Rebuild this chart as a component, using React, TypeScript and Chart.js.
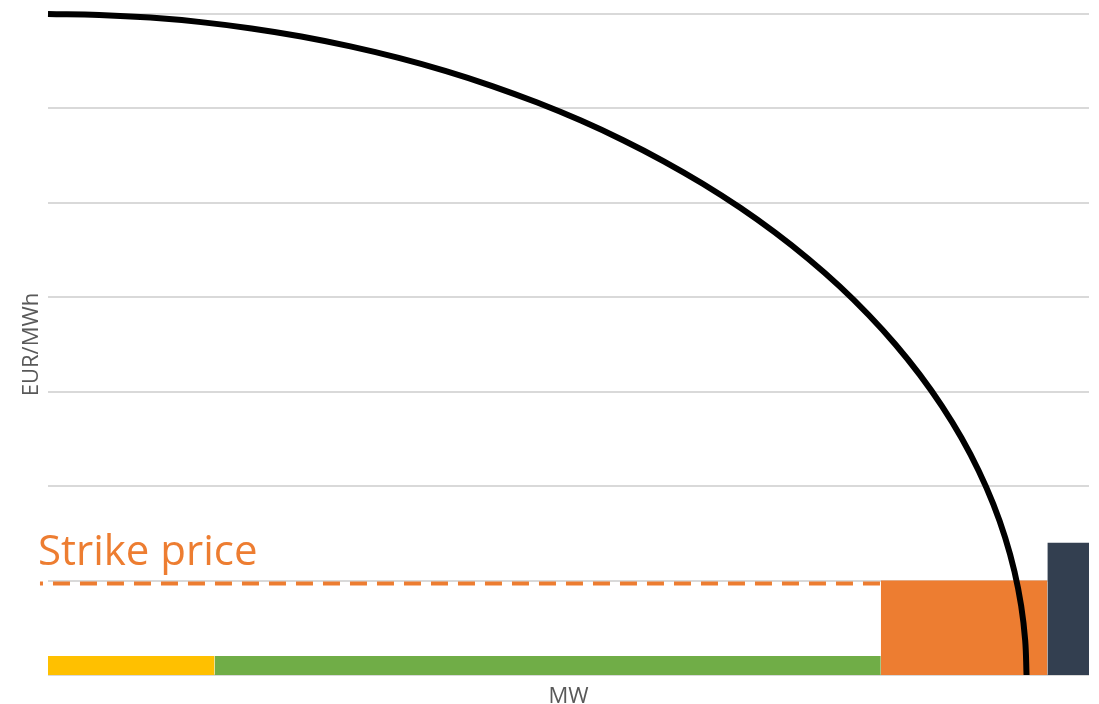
import React, { useEffect, useRef } from "react";
import { Chart, registerables } from "chart.js";

Chart.register(...registerables);

// Supply curve (MW, EUR/MWh)
const curveMW = [0, 4.92, 9.826, 14.704, 19.544, 24.329, 29.048, 33.687, 38.234, 42.675, 47.0, 51.196, 55.252, 59.156, 62.898, 66.468, 69.855, 73.052, 76.048, 78.835, 81.407, 83.755, 85.874, 87.757, 89.4, 90.797, 91.946, 92.843, 93.485, 93.871, 94];
const curvePrice = [7.0, 6.99, 6.962, 6.914, 6.847, 6.762, 6.657, 6.535, 6.395, 6.237, 6.062, 5.871, 5.663, 5.44, 5.202, 4.95, 4.684, 4.405, 4.115, 3.812, 3.5, 3.178, 2.847, 2.509, 2.163, 1.812, 1.455, 1.095, 0.732, 0.366, 0];

// Blocks: [start MW, end MW], height EUR/MWh, colour
const blockStart = [0, 16, 80, 96];
const blockEnd = [16, 80, 96, 100];
const blockHeight = [0.2, 0.2, 1.0, 1.4];
const blockColor = ["#FFC000", "#70AD47", "#ED7D31", "#333F50"];

// Strike price line
const strikeFrom = -0.77;
const strikeTo = 80;
const strikeValue = 0.97;
const strikeLabel = "Strike price";

const xTitle = "MW";
const yTitle = "EUR/MWh";
const yMax = 7;
const xMax = 100;

const FONT = '"Open Sans", "DejaVu Sans", sans-serif';

export default function App() {
  const ref = useRef<HTMLCanvasElement | null>(null);

  useEffect(() => {
    let chart: Chart | null = null;
    let cancelled = false;

    const labelPlugin = {
      id: "strikeLabel",
      afterDatasetsDraw(c: any) {
        const ctx = c.ctx;
        ctx.save();
        ctx.font = `42px ${FONT}`;
        ctx.fillStyle = "#ED7D31";
        ctx.textBaseline = "alphabetic";
        ctx.textAlign = "left";
        ctx.fillText(strikeLabel, 38, 565);
        ctx.restore();
      },
    };

    const create = () => {
      if (cancelled || !ref.current) return;
      const datasets: any[] = [];
      datasets.push({
        data: curveMW.map((x, i) => ({ x, y: curvePrice[i] })),
        borderColor: "#000000",
        borderWidth: 6,
        pointRadius: 0,
        fill: false,
        tension: 0.4,
        cubicInterpolationMode: "default",
        clip: false,
      });
      datasets.push({
        data: [
          { x: strikeFrom, y: strikeValue },
          { x: strikeTo, y: strikeValue },
        ],
        borderColor: "#ED7D31",
        borderWidth: 4,
        borderDash: [17, 10],
        borderDashOffset: 14,
        borderCapStyle: "butt",
        pointRadius: 0,
        fill: false,
        clip: false,
      });
      blockStart.forEach((s, i) => {
        datasets.push({
          data: [
            { x: s, y: blockHeight[i] },
            { x: blockEnd[i], y: blockHeight[i] },
          ],
          borderWidth: 0,
          borderColor: blockColor[i],
          backgroundColor: blockColor[i],
          pointRadius: 0,
          fill: "origin",
          tension: 0,
        });
      });

      chart = new Chart(ref.current, {
        type: "line",
        data: { datasets },
        plugins: [labelPlugin],
        options: {
          animation: false,
          responsive: false,
          layout: { padding: { top: 14, right: 10, left: 0, bottom: 0 } },
          plugins: {
            legend: { display: false },
            tooltip: { enabled: false },
          },
          scales: {
            x: {
              type: "linear",
              min: 0,
              max: xMax,
              ticks: { display: false },
              grid: { display: false, drawTicks: false },
              border: { display: false },
              title: {
                display: true,
                text: xTitle,
                color: "#595959",
                font: { family: FONT, size: 22 },
                padding: { top: 0, bottom: -6 },
              },
              afterFit: (scale: any) => {
                scale.height = 29;
              },
            },
            y: {
              type: "linear",
              min: 0,
              max: yMax,
              ticks: { display: false, stepSize: 1 },
              grid: { color: "#D9D9D9", lineWidth: 2, drawTicks: false },
              border: { display: false },
              title: {
                display: true,
                text: yTitle,
                color: "#595959",
                font: { family: FONT, size: 22 },
                padding: { top: 19, bottom: 0 },
              },
              afterFit: (scale: any) => {
                scale.width = 48;
              },
            },
          },
        } as any,
      });
    };

    if ((document as any).fonts && (document as any).fonts.load) {
      Promise.all([
        (document as any).fonts.load(`42px "Open Sans"`),
        (document as any).fonts.load(`22px "Open Sans"`),
      ])
        .catch(() => null)
        .then(create);
    } else {
      create();
    }

    return () => {
      cancelled = true;
      if (chart) chart.destroy();
    };
  }, []);

  return (
    <div style={{ position: "fixed", left: 0, top: 0, width: 1099, height: 704, background: "#ffffff" }}>
      <canvas ref={ref} width={1099} height={704} style={{ display: "block" }} />
    </div>
  );
}
